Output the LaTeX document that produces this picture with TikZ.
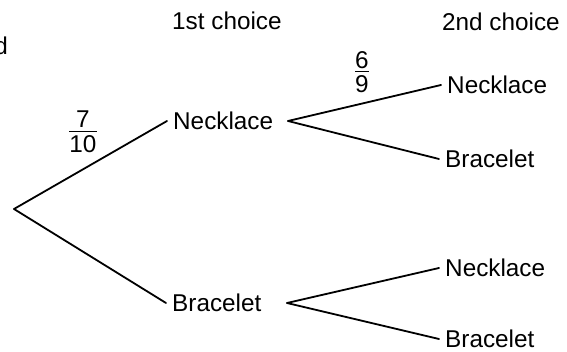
\documentclass[tikz,border=0pt]{standalone}
\usepackage{fontspec}
\setmainfont{Liberation Sans}
\usepackage{tikz}
\usetikzlibrary{positioning}

% stacked fraction with a plain bar, as printed on the branches
\newcommand{\frc}[2]{{\setlength{\arrayrulewidth}{1.5pt}\renewcommand{\arraystretch}{0.3}%
  \begin{tabular}{@{}c@{}}#1\\\hline\rule{0pt}{20pt}#2\end{tabular}}}

\begin{document}
\begin{tikzpicture}[x=1pt, y=-1pt,
    lbl/.style={font=\fontsize{24.3}{29}\selectfont, inner ysep=0pt, inner xsep=6pt, anchor=west},
    prob/.style={font=\fontsize{24.3}{29}\selectfont, inner sep=0pt},
    branch/.style={line width=1.8pt, line cap=round, line join=round}]

  \useasboundingbox (0,0) rectangle (567,352);

  % headings (and the clipped letter on the left edge)
  \node[prob, anchor=east] (cut) at (8,46) {d};
  \node[lbl] (h1) at (166,21) {1st choice};
  \node[lbl] (h2) at (436,22) {2nd choice};

  % first choice
  \coordinate (root) at (14,209);
  \node[lbl] (n1) at (167,121) {Necklace};
  \node[lbl] (b1) at (166,303) {Bracelet};

  % second choice
  \coordinate (f1) at (288,121);
  \coordinate (f2) at (287,303);
  \node[lbl] (nn) at (441,85) {Necklace};
  \node[lbl] (nb) at (439,159) {Bracelet};
  \node[lbl] (bn) at (439,268) {Necklace};
  \node[lbl] (bb) at (439,339) {Bracelet};

  \draw[branch] (root) -- (n1.west);
  \draw[branch] (root) -- (b1.west);
  \draw[branch] (f1) -- (nn.west);
  \draw[branch] (f1) -- (nb.west);
  \draw[branch] (f2) -- (bn.west);
  \draw[branch] (f2) -- (bb.west);

  % probabilities
  \node[prob] (p1) at (83,133) {\frc{7}{10}};
  \node[prob] (p2) at (362,73) {\frc{6}{9}};
\end{tikzpicture}
\end{document}
